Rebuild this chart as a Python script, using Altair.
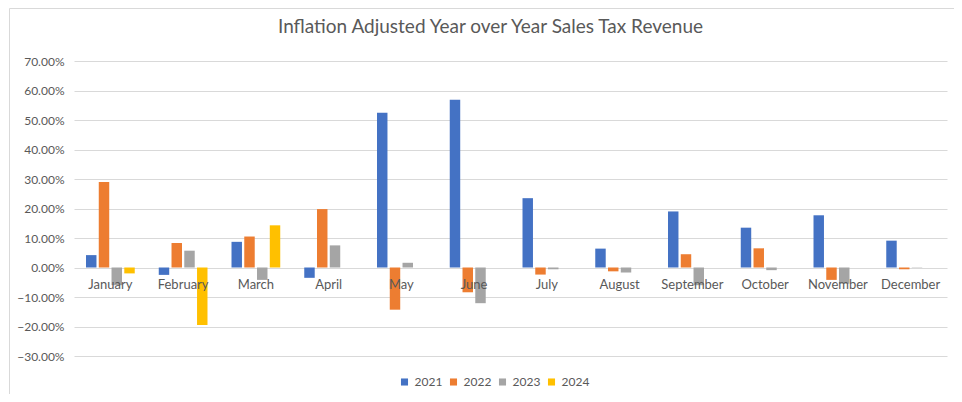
import altair as alt
import pandas as pd

months = ["January", "February", "March", "April", "May", "June", "July",
          "August", "September", "October", "November", "December"]
years = ["2021", "2022", "2023", "2024"]
y2021 = [4.2, -2.5, 8.7, -3.5, 52.5, 56.9, 23.5, 6.4, 19.0, 13.5, 17.7, 9.1]
y2022 = [29.0, 8.3, 10.5, 19.8, -14.3, -8.4, -2.4, -1.3, 4.5, 6.5, -4.2, -0.6]
y2023 = [-6.0, 5.7, -4.2, 7.5, 1.6, -12.1, -0.6, -1.7, -6.0, -0.9, -5.5, -0.1]
y2024 = [-2.0, -19.5, 14.3, None, None, None, None, None, None, None, None, None]
colors = ["#4472C4", "#ED7D31", "#A5A5A5", "#FFC000"]

rows = []
for yr, vals in zip(years, [y2021, y2022, y2023, y2024]):
    for m, v in zip(months, vals):
        if v is not None:
            rows.append({"Month": m, "Year": yr, "Value": v / 100.0})
df = pd.DataFrame(rows)

FONT = "Lato"
W, H = 873, 295

bars = alt.Chart(df).mark_bar().encode(
    x=alt.X("Month:N", sort=months, title=None,
            scale=alt.Scale(paddingInner=0.33, paddingOuter=0.165),
            axis=alt.Axis(orient="bottom", offset=-88, domain=False, ticks=False,
                          grid=False, labelAngle=0, labelFont=FONT, labelFontSize=13,
                          labelColor="#595959", labelPadding=10, zindex=2)),
    xOffset=alt.XOffset("Year:N", sort=years,
                        scale=alt.Scale(paddingInner=0.18, paddingOuter=0)),
    y=alt.Y("Value:Q", title=None,
            scale=alt.Scale(domain=[-0.3, 0.7], nice=False),
            axis=alt.Axis(format=".2%", values=[-0.3, -0.2, -0.1, 0, 0.1, 0.2, 0.3, 0.4, 0.5, 0.6, 0.7],
                          domain=False, ticks=False, gridColor="#D9D9D9", gridWidth=1,
                          labelFont=FONT, labelFontSize=12, labelColor="#595959",
                          labelPadding=10)),
    color=alt.Color("Year:N", sort=years,
                    scale=alt.Scale(domain=years, range=colors),
                    legend=alt.Legend(title=None, orient="none", direction="horizontal",
                                      legendX=W / 2 - 112, legendY=H + 20,
                                      symbolType="square", symbolSize=50,
                                      symbolStrokeWidth=0, labelFont=FONT,
                                      labelFontSize=12, labelColor="#595959",
                                      columnPadding=5, labelOffset=4)),
)

frame = alt.Chart(pd.DataFrame({"k": [0]})).mark_rect(
    fill=None, stroke="#D9D9D9", strokeWidth=1, clip=False
).encode(
    x=alt.value(-64.5), x2=alt.value(W + 200),
    y=alt.value(-52.5), y2=alt.value(H + 200),
)

chart = alt.layer(frame, bars).properties(
    width=W, height=H,
    title=alt.TitleParams("Inflation Adjusted Year over Year Sales Tax Revenue",
                          font=FONT, fontSize=19, fontWeight="normal",
                          color="#595959", anchor="middle", dx=-20, offset=-28.5),
    autosize=alt.AutoSizeParams(type="none"),
    padding={"left": 66, "top": 53, "right": 7, "bottom": 38},
    background="white",
).configure_view(stroke=None)

chart.save("out.html", embed_options={"renderer": "svg", "actions": False})
